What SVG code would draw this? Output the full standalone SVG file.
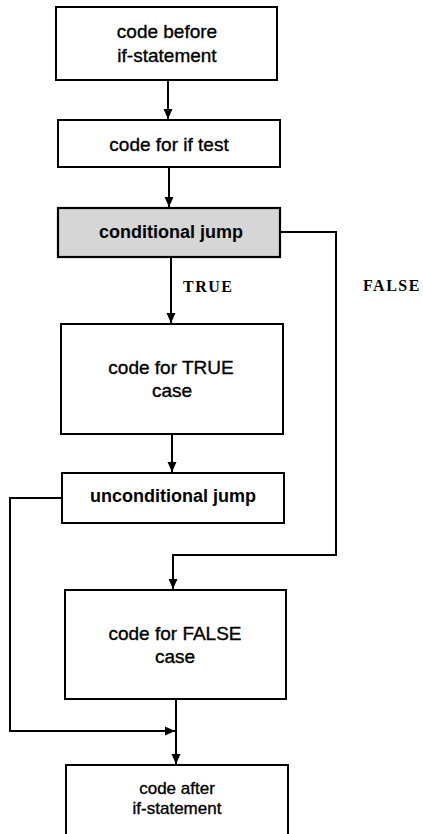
<svg xmlns="http://www.w3.org/2000/svg" width="423" height="834" viewBox="0 0 423 834">
<defs>
<marker id="arr" markerUnits="userSpaceOnUse" markerWidth="10" markerHeight="12" viewBox="0 0 10 12" refX="10" refY="6" orient="auto">
<path d="M0,1.5 L10,6 L0,10.5 Z" fill="#000"/>
</marker>
<style>
.box{fill:#fff;stroke:#000;stroke-width:2}
.gray{fill:#d6d6d6;stroke:#000;stroke-width:2.2}
.t{font-family:"Liberation Sans",Arial,sans-serif;font-size:19px;fill:#000;stroke:#000;stroke-width:0.35;text-anchor:middle}
.s{font-size:17px}
.b{font-family:"Liberation Sans",Arial,sans-serif;font-size:18px;font-weight:bold;fill:#000;text-anchor:middle}
.lbl{font-family:"Liberation Serif","Times New Roman",serif;font-size:16px;font-weight:bold;letter-spacing:1.5px;fill:#000}
.c{fill:none;stroke:#000;stroke-width:2}
</style>
</defs>
<g id="connectors">
<path class="c" d="M168,80 V119" marker-end="url(#arr)"/>
<path class="c" d="M169,167 V207" marker-end="url(#arr)"/>
<path class="c" d="M171,257 V323" marker-end="url(#arr)"/>
<path class="c" d="M172,434 V472" marker-end="url(#arr)"/>
<path class="c" d="M280,232 H336 V555 H173 V589" marker-end="url(#arr)"/>
<path class="c" d="M62,498 H10 V731 H175" marker-end="url(#arr)"/>
<path class="c" d="M176,699 V764" marker-end="url(#arr)"/>
<text class="lbl" x="183" y="292">TRUE</text>
<text class="lbl" x="363" y="291">FALSE</text>
</g>
<g id="before">
<rect class="box" x="56" y="7" width="221" height="73"/>
<text class="t" x="167" y="38">code before</text>
<text class="t" x="167" y="62">if-statement</text>
</g>
<g id="iftest">
<rect class="box" x="58" y="120" width="222" height="47"/>
<text class="t" x="169" y="151">code for if test</text>
</g>
<g id="condjump">
<rect class="gray" x="58" y="208" width="222" height="49"/>
<text class="b" x="171" y="238">conditional jump</text>
</g>
<g id="truecase">
<rect class="box" x="61" y="324" width="222" height="110"/>
<text class="t" x="171" y="374">code for TRUE</text>
<text class="t" x="172" y="397">case</text>
</g>
<g id="uncondjump">
<rect class="box" x="62" y="473" width="222" height="50"/>
<text class="b" x="173" y="502">unconditional jump</text>
</g>
<g id="falsecase">
<rect class="box" x="65" y="590" width="221" height="109"/>
<text class="t" x="175" y="640">code for FALSE</text>
<text class="t" x="175" y="663">case</text>
</g>
<g id="after">
<rect class="box" x="66" y="765" width="222" height="80"/>
<text class="t s" x="177" y="794">code after</text>
<text class="t s" x="177" y="814">if-statement</text>
</g>
</svg>
